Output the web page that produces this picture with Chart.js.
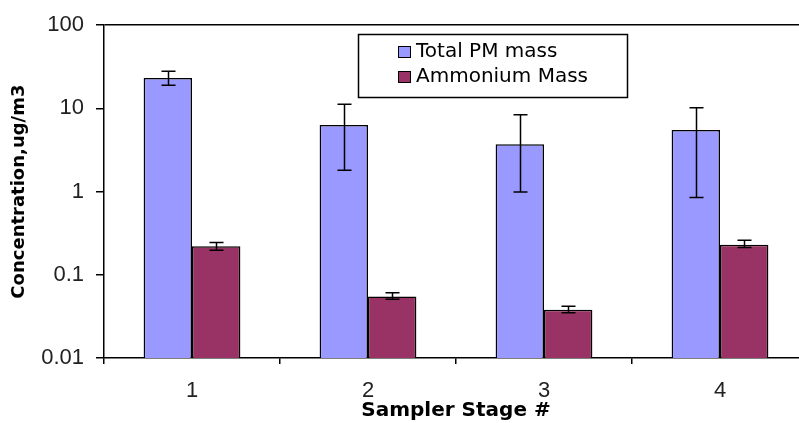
<!DOCTYPE html>
<html>
<head>
<meta charset="utf-8">
<script src="https://cdn.jsdelivr.net/npm/chart.js@4"></script>
<style>
  html, body { margin: 0; padding: 0; background: #fff; overflow: hidden; }
  #chart { display: block; }
</style>
</head>
<body>
<canvas id="chart" width="810" height="423"></canvas>
<script>
// categorias e valores (ug/m3) por estágio do amostrador
const stages = ['1', '2', '3', '4'];
const totalPM = [23.2, 6.3, 3.7, 5.5];
const totalPMHigh = [28.0, 11.2, 8.4, 10.2];
const totalPMLow = [19.0, 1.8, 0.99, 0.85];
const ammonium = [0.22, 0.055, 0.038, 0.23];
const ammoniumHigh = [0.245, 0.061, 0.042, 0.26];
const ammoniumLow = [0.197, 0.051, 0.035, 0.213];
const yTicks = [0.01, 0.1, 1, 10, 100];

const TICK_FONT = '"Liberation Sans", Arial, sans-serif';
const WIDE_FONT = '"DejaVu Sans", Verdana, sans-serif';

// barras de erro desenhadas sobre cada barra
const errorBars = {
  id: 'errorBars',
  afterDatasetsDraw(chart) {
    const ctx = chart.ctx;
    const y = chart.scales.y;
    ctx.save();
    ctx.strokeStyle = '#000';
    ctx.lineWidth = 1.5;
    chart.data.datasets.forEach((ds, i) => {
      const meta = chart.getDatasetMeta(i);
      meta.data.forEach((bar, j) => {
        const yHi = y.getPixelForValue(ds.errHigh[j]);
        const yLo = y.getPixelForValue(ds.errLow[j]);
        const x = Math.round(bar.x) + 0.5;
        ctx.beginPath();
        ctx.moveTo(x, yHi); ctx.lineTo(x, yLo);
        ctx.moveTo(x - 7, yHi); ctx.lineTo(x + 7, yHi);
        ctx.moveTo(x - 7, yLo); ctx.lineTo(x + 7, yLo);
        ctx.stroke();
      });
    });
    ctx.restore();
  }
};

// legenda com moldura dentro da área do gráfico
const boxLegend = {
  id: 'boxLegend',
  afterDraw(chart) {
    const ctx = chart.ctx;
    const bx = 358, by = 34, bw = 269, bh = 63;
    ctx.save();
    ctx.fillStyle = '#fff';
    ctx.fillRect(bx, by, bw, bh);
    ctx.strokeStyle = '#000';
    ctx.lineWidth = 1.5;
    ctx.strokeRect(bx + 0.5, by + 0.5, bw, bh);
    ctx.font = '20px ' + WIDE_FONT;
    ctx.textBaseline = 'middle';
    chart.data.datasets.forEach((ds, i) => {
      const cy = 51 + i * 25;
      ctx.fillStyle = ds.backgroundColor;
      ctx.fillRect(398, cy - 5, 12, 11);
      ctx.strokeStyle = '#000';
      ctx.lineWidth = 1;
      ctx.strokeRect(398.5, cy - 4.5, 12, 11);
      ctx.fillStyle = '#000';
      ctx.fillText(ds.label, 416, cy + 1);
    });
    ctx.restore();
  }
};

new Chart(document.getElementById('chart'), {
  type: 'bar',
  data: {
    labels: stages,
    datasets: [
      {
        label: 'Total PM mass',
        data: totalPM,
        errHigh: totalPMHigh,
        errLow: totalPMLow,
        backgroundColor: '#9999ff',
        borderColor: '#000',
        borderWidth: 1.5
      },
      {
        label: 'Ammonium Mass',
        data: ammonium,
        errHigh: ammoniumHigh,
        errLow: ammoniumLow,
        backgroundColor: '#993366',
        borderColor: '#000',
        borderWidth: 1.5
      }
    ]
  },
  options: {
    responsive: false,
    animation: false,
    layout: { padding: { top: 23, right: 2, left: 0, bottom: 0 } },
    datasets: { bar: { categoryPercentage: 0.55, barPercentage: 1 } },
    plugins: { legend: { display: false }, tooltip: { enabled: false } },
    scales: {
      x: {
        grid: { offset: true, color: 'transparent', tickColor: '#000', tickLength: 6, lineWidth: 1.5 },
        border: { display: true, color: '#000', width: 1.5 },
        ticks: { color: '#222', font: { family: TICK_FONT, size: 22 }, padding: 14 },
        title: {
          display: true,
          text: 'Sampler Stage #',
          color: '#000',
          font: { family: WIDE_FONT, size: 20, weight: 'bold' },
          padding: { top: 0, bottom: 0 }
        },
        afterFit(scale) { scale.height = 65; }
      },
      y: {
        type: 'logarithmic',
        min: 0.01,
        max: 100,
        afterBuildTicks(scale) { scale.ticks = yTicks.map(v => ({ value: v })); },
        grid: {
          color: ctx => (ctx.tick && ctx.tick.value === 100 ? '#000' : 'transparent'),
          tickColor: '#000',
          tickLength: 8,
          lineWidth: 1.5
        },
        border: { display: true, color: '#000', width: 1.5 },
        ticks: {
          color: '#222',
          font: { family: TICK_FONT, size: 22 },
          padding: 12,
          callback: v => String(v)
        },
        title: {
          display: true,
          text: 'Concentration,ug/m3',
          color: '#000',
          font: { family: WIDE_FONT, size: 18, weight: 'bold' },
          padding: { top: 9, bottom: 0 }
        },
        afterFit(scale) { scale.width = 104; }
      }
    }
  },
  plugins: [errorBars, boxLegend]
});
</script>
</body>
</html>
